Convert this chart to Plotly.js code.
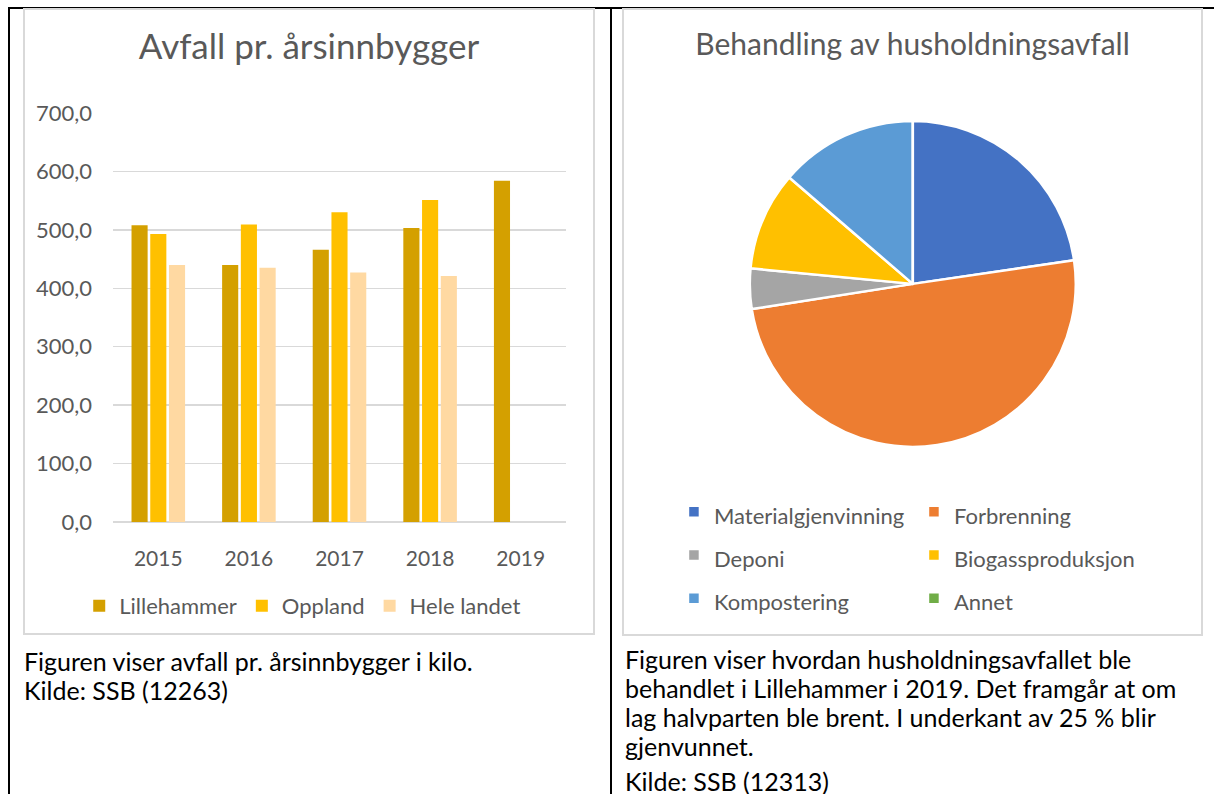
<!DOCTYPE html>
<html>
<head>
<meta charset="utf-8">
<script src="https://cdn.plot.ly/plotly-3.0.1.min.js"></script>
<style>
  html, body { margin:0; padding:0; width:1214px; height:794px; background:#fff; overflow:hidden; font-family: Lato, "Open Sans", sans-serif; }
  .bline { position:absolute; background:#000; }
  .box { position:absolute; border:2px solid #d9d9d9; box-sizing:border-box; }
  .chart { position:absolute; }
  .cap { position:absolute; font-family: Lato, sans-serif; font-size:25px; line-height:29px; color:#000; white-space:nowrap; }
</style>
</head>
<body>
<div class="bline" style="left:8px; top:7px; width:1206px; height:2px;"></div>
<div class="bline" style="left:8px; top:7px; width:2px; height:787px;"></div>
<div class="bline" style="left:610px; top:7px; width:2px; height:787px;"></div>

<div class="box" style="left:23px; top:8px; width:572px; height:627px;"></div>
<div class="box" style="left:622px; top:8px; width:581px; height:628px;"></div>

<div id="bar" class="chart" style="left:24px; top:8px; width:570px; height:626px;"></div>
<div id="pie" class="chart" style="left:623px; top:8px; width:579px; height:627px;"></div>

<div class="cap" style="left:24px; top:647px;">Figuren viser avfall pr. årsinnbygger i kilo.<br>Kilde: SSB (12263)</div>
<div class="cap" style="left:625px; top:645px;">Figuren viser hvordan husholdningsavfallet ble<br>behandlet i Lillehammer i 2019. Det framgår at om<br>lag halvparten ble brent. I underkant av 25 % blir<br>gjenvunnet.<br><span style="position:relative; top:6px;">Kilde: SSB (12313)</span></div>

<script>
// ---- Bar chart data ----
const years = ["2015", "2016", "2017", "2018", "2019"];
const lillehammer = [508, 440, 466, 503, 584];
const oppland = [493, 509, 530, 551, null];
const heleLandet = [440, 435, 427, 421, null];
const barSeriesNames = ["Lillehammer", "Oppland", "Hele landet"];
const barColors = ["#D4A000", "#FFC000", "#FFD9A2"];

// ---- Pie chart data ----
const pieLabels = ["Materialgjenvinning", "Forbrenning", "Deponi", "Biogassproduksjon", "Kompostering", "Annet"];
const pieValues = [22.7, 49.9, 4.0, 9.8, 13.7, 0];
const pieColors = ["#4472C4", "#ED7D31", "#A5A5A5", "#FFC000", "#5B9BD5", "#70AD47"];

const txt = "#595959";
const FONT = "Lato, 'Open Sans', sans-serif";

const barData = [lillehammer, oppland, heleLandet].map((vals, i) => ({
  type: "bar",
  name: barSeriesNames[i],
  x: years,
  y: vals,
  marker: { color: barColors[i] },
  hoverinfo: "x+y+name"
}));

const barLayout = {
  width: 570, height: 626,
  margin: { l: 89, r: 28, t: 105, b: 112, autoexpand: false },
  paper_bgcolor: "rgba(0,0,0,0)",
  plot_bgcolor: "rgba(0,0,0,0)",
  separators: ", ",
  font: { family: FONT, color: txt, size: 22 },
  title: { text: "Avfall pr. årsinnbygger", font: { family: FONT, size: 35, color: txt, weight: 400 },
           x: 285/570, xanchor: "center", y: 1 - 39/626, yanchor: "middle", xref: "container", yref: "container" },
  barmode: "group",
  bargap: 0.38,
  bargroupgap: 0.14,
  xaxis: { type: "category", showgrid: false, zeroline: false, showline: false, ticks: "",
           tickfont: { size: 21, color: txt }, ticklabelstandoff: 22 },
  yaxis: { range: [0, 700], dtick: 100, tick0: 0, tickformat: ".1f", showgrid: true, gridcolor: "#d9d9d9", gridwidth: 1.5,
           zeroline: true, zerolinecolor: "#d9d9d9", zerolinewidth: 1.5, showline: false, ticks: "",
           tickfont: { size: 22, color: txt }, ticklabelstandoff: 20 },
  showlegend: true,
  legend: { orientation: "h", xref: "container", yref: "container", x: 0.489, xanchor: "center", y: 1 - 598/626, yanchor: "middle",
            font: { size: 22, color: txt }, itemwidth: 30, bgcolor: "rgba(0,0,0,0)" }
};

Plotly.newPlot("bar", barData, barLayout, { displayModeBar: false, staticPlot: true });

const pieData = [{
  type: "pie",
  labels: pieLabels.map(l => '<span style="font-size:22px">' + l + '</span>'),
  values: pieValues,
  marker: { colors: pieColors, line: { color: "#ffffff", width: 2.5 } },
  sort: false,
  direction: "clockwise",
  rotation: 0,
  textinfo: "none",
  hoverinfo: "label+percent",
  domain: { x: [0.219, 0.782], y: [0.300, 0.820] }
}];

const pieLayout = {
  width: 579, height: 627,
  margin: { l: 0, r: 0, t: 0, b: 0, autoexpand: false },
  paper_bgcolor: "rgba(0,0,0,0)",
  font: { family: FONT, color: txt, size: 20 },
  title: { text: "Behandling av husholdningsavfall", font: { family: FONT, size: 30, color: txt, weight: 400 },
           x: 0.5, xanchor: "center", y: 1 - 36/627, yanchor: "middle", xref: "container", yref: "container" },
  showlegend: true,
  legend: { orientation: "h", xref: "container", yref: "container", x: 0.088, xanchor: "left", y: 1 - 477/627, yanchor: "top",
            entrywidth: 195, entrywidthmode: "pixels",
            font: { size: 31, color: txt }, itemwidth: 30, bgcolor: "rgba(0,0,0,0)" }
};

Plotly.newPlot("pie", pieData, pieLayout, { displayModeBar: false, staticPlot: true });
</script>
</body>
</html>
